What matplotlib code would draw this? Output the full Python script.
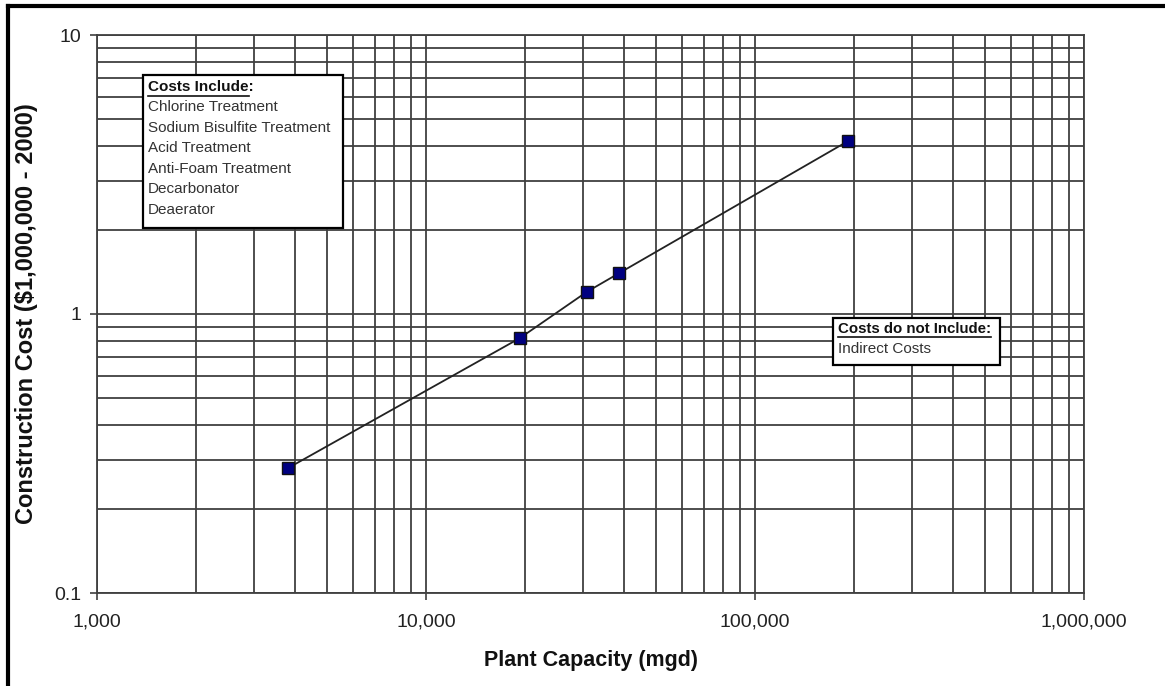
import matplotlib.pyplot as plt
from matplotlib.ticker import LogLocator, FixedLocator, NullFormatter
from matplotlib.lines import Line2D
from matplotlib.patches import Rectangle

plt.rcParams['font.family'] = ['Liberation Sans', 'DejaVu Sans']

# Data
capacity_mgd = [3800, 19300, 30800, 38600, 192000]
cost_musd = [0.28, 0.82, 1.2, 1.4, 4.17]

x_ticks = [1000, 10000, 100000, 1000000]
x_tick_labels = ['1,000', '10,000', '100,000', '1,000,000']
y_ticks = [0.1, 1, 10]
y_tick_labels = ['0.1', '1', '10']

includes = ['Chlorine Treatment', 'Sodium Bisulfite Treatment', 'Acid Treatment',
            'Anti-Foam Treatment', 'Decarbonator', 'Deaerator']
excludes = ['Indirect Costs']

W, H = 1165, 686
fig = plt.figure(figsize=(W / 100, H / 100), dpi=100)
ax = fig.add_axes([97 / W, 1 - 593 / H, 987 / W, 558 / H])

ax.set_xscale('log')
ax.set_yscale('log')
ax.set_xlim(1000, 1000000)
ax.set_ylim(0.1, 10)

ax.xaxis.set_major_locator(FixedLocator(x_ticks))
ax.yaxis.set_major_locator(FixedLocator(y_ticks))
ax.set_xticklabels(x_tick_labels)
ax.set_yticklabels(y_tick_labels)
ax.xaxis.set_minor_locator(LogLocator(base=10, subs=range(2, 10)))
ax.yaxis.set_minor_locator(LogLocator(base=10, subs=range(2, 10)))
ax.xaxis.set_minor_formatter(NullFormatter())
ax.yaxis.set_minor_formatter(NullFormatter())

grid_c = '#404040'
ax.grid(True, which='both', color=grid_c, linewidth=1.3)
ax.tick_params(which='major', direction='out', length=5, width=1.2, color=grid_c,
               labelsize=14, labelcolor='#222222')
ax.tick_params(axis='x', which='major', pad=10)
ax.tick_params(axis='y', which='major', pad=6)
ax.tick_params(which='minor', length=0)
for s in ax.spines.values():
    s.set_color(grid_c)
    s.set_linewidth(1.3)

ax.plot(capacity_mgd, cost_musd, color='#222222', linewidth=1.3, zorder=3)
ax.plot(capacity_mgd, cost_musd, linestyle='none', marker='s', markersize=8,
        markerfacecolor='#000080', markeredgecolor='#111111', markeredgewidth=1, zorder=4)

ax.set_xlabel('Plant Capacity (mgd)', fontsize=15.5, fontweight='bold', labelpad=14,
              color='#111111')
ax.set_ylabel('Construction Cost ($1,000,000 - 2000)', fontsize=17, fontweight='bold',
              labelpad=12, color='#111111')

# "Costs Include" box
bx0, by0, bw, bh = 143, 75, 200, 153
fig.add_artist(Rectangle((bx0 / W, 1 - (by0 + bh) / H), bw / W, bh / H,
                         transform=fig.transFigure, facecolor='white', edgecolor='black',
                         linewidth=1.6, zorder=5))
fig.text(148 / W, 1 - 87 / H, 'Costs Include:', fontsize=11, fontweight='bold',
         va='center', ha='left', color='#111111', zorder=6)
fig.add_artist(Line2D([148 / W, 249 / W], [1 - 95.5 / H, 1 - 95.5 / H],
                      color='#111111', linewidth=1.2, zorder=6))
for i, t in enumerate(includes):
    fig.text(148 / W, 1 - (107 + 20.6 * i) / H, t, fontsize=11,
             va='center', ha='left', color='#333333', zorder=6)

# "Costs do not Include" box
ex0, ey0, ew, eh = 833, 318, 167, 47
fig.add_artist(Rectangle((ex0 / W, 1 - (ey0 + eh) / H), ew / W, eh / H,
                         transform=fig.transFigure, facecolor='white', edgecolor='black',
                         linewidth=1.6, zorder=5))
fig.text(838 / W, 1 - 329 / H, 'Costs do not Include:', fontsize=10.8, fontweight='bold',
         va='center', ha='left', color='#111111', zorder=6)
fig.add_artist(Line2D([838 / W, 991 / W], [1 - 337.5 / H, 1 - 337.5 / H],
                      color='#111111', linewidth=1.2, zorder=6))
for i, t in enumerate(excludes):
    fig.text(838 / W, 1 - (349 + 20.6 * i) / H, t, fontsize=11,
             va='center', ha='left', color='#333333', zorder=6)

# outer frame (top and left edges visible)
fig.add_artist(Line2D([7.5 / W, 1], [1 - 6 / H, 1 - 6 / H], color='black', linewidth=3))
fig.add_artist(Line2D([7.5 / W, 7.5 / W], [0, 1 - 6 / H], color='black', linewidth=3))

fig.savefig('out.png', dpi=100)
